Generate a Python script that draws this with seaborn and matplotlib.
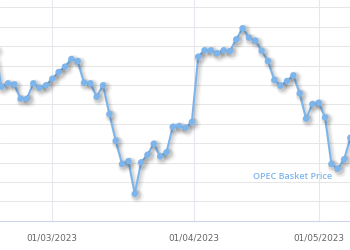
import numpy as np
import pandas as pd
import matplotlib
matplotlib.use("Agg")
import matplotlib.pyplot as plt
import matplotlib.patheffects as pe
import seaborn as sns

# ---- data ----
trading_days = pd.bdate_range("2023-02-16", "2023-05-08").drop(pd.Timestamp("2023-04-07"))
prices = [85.60, 81.81, 82.16, 82.06, 80.58, 80.58, 82.16, 81.71, 81.96,
          82.64, 83.33, 83.88, 84.67, 84.46, 82.23, 82.16, 80.78, 81.96, 79.00,
          76.25, 73.85, 74.15, 70.78, 74.02, 74.80, 75.94, 74.64, 75.05, 77.69,
          77.76, 77.59, 78.18,
          84.91, 85.57, 85.57, 85.26, 85.57, 85.49, 86.70, 87.84, 86.87, 86.56,
          85.53, 84.46, 82.51, 81.92, 82.40, 82.99, 81.13, 78.52, 80.03,
          80.16, 78.66, 73.85, 73.36, 74.33, 76.56]
tick_dates = ["2023-03-01", "2023-04-01", "2023-05-01"]
tick_labels = ["01/03/2023", "01/04/2023", "01/05/2023"]
series_name = "OPEC Basket Price"

# ordinal (trading-day) axis, Mar 1 = 0
base = list(trading_days).index(pd.Timestamp("2023-03-01"))
idx = np.arange(len(trading_days)) - base
df = pd.DataFrame({"idx": idx, "price": prices})
ordinals = np.array([d.toordinal() for d in trading_days])
tick_pos = [np.interp(pd.Timestamp(t).toordinal(), ordinals, idx) for t in tick_dates]

sns.set_theme(style="white")
plt.rcParams["font.family"] = ["DejaVu Sans"]

fig = plt.figure(figsize=(3.5, 2.5), dpi=100)
ax = fig.add_axes([0, 29.3 / 250, 1, 220.7 / 250])

line_color = "#7cb5ec"
sns.lineplot(data=df, x="idx", y="price", ax=ax, color=line_color,
             linewidth=1.5, marker="o", markersize=4.6, markeredgewidth=0,
             markerfacecolor=line_color, zorder=3)
l = ax.lines[0]
l.set_path_effects([
    pe.SimpleLineShadow(offset=(1.8, -1.8), shadow_color="black", alpha=0.035, linewidth=5),
    pe.SimpleLineShadow(offset=(1.5, -1.5), shadow_color="black", alpha=0.05, linewidth=3.5),
    pe.SimpleLineShadow(offset=(1.2, -1.2), shadow_color="black", alpha=0.07, linewidth=2),
    pe.Normal(),
])

ax.set_xlim(-52.3 / 6.343, (350 - 52.3) / 6.343)
ax.set_ylim(68, 68 + 220.7 / 9.7)

ax.set_yticks(np.arange(68, 91, 2))
ax.set_yticklabels([])
ax.tick_params(axis="y", length=0)
ax.yaxis.grid(True, color="#e6e6e6", linewidth=0.75)

ax.set_xticks(tick_pos)
ax.set_xticklabels(tick_labels, fontsize=6.4, color="#666666")
ax.tick_params(axis="x", length=7, width=0.72, color="#ccd6eb", pad=2, direction="out")
ax.xaxis.grid(True, color="#e6e6ef", linewidth=0.75)
ax.set_axisbelow(True)

for s in ["top", "right", "left"]:
    ax.spines[s].set_visible(False)
ax.spines["bottom"].set_color("#ccd6eb")
ax.spines["bottom"].set_linewidth(0.75)
ax.set_xlabel("")
ax.set_ylabel("")

ax.text(37.92, 72.56, series_name, color=line_color, fontsize=6.5,
        fontweight="semibold", family=["Open Sans", "DejaVu Sans"],
        ha="center", va="center")

fig.savefig("out.png", dpi=100, facecolor="white")
